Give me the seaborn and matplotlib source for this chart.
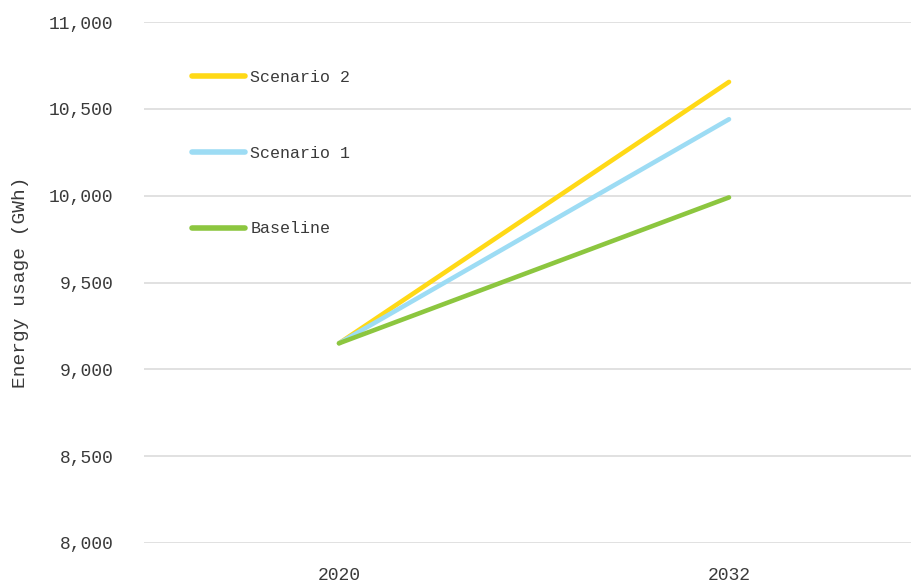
import matplotlib
matplotlib.use("Agg")
import matplotlib.pyplot as plt
import matplotlib.ticker as mticker
import seaborn as sns
import pandas as pd

years = ["2020", "2032"]
series_names = ["Scenario 2", "Scenario 1", "Baseline"]
scenario2 = [9150, 10655]
scenario1 = [9150, 10440]
baseline = [9150, 9990]
y_label = "Energy usage (GWh)"
y_ticks = [8000, 8500, 9000, 9500, 10000, 10500, 11000]
colors = ["#FFD916", "#9DDCF4", "#8CC63F"]

rows = []
for name, vals in zip(series_names, [scenario2, scenario1, baseline]):
    for yr, v in zip(years, vals):
        rows.append({"Year": yr, "Value": v, "Series": name})
df = pd.DataFrame(rows)

sns.set_theme(style="white")
plt.rcParams["font.family"] = ["Liberation Mono", "DejaVu Sans"]

fig = plt.figure(figsize=(9.12, 5.84), dpi=100)
ax = fig.add_axes([144 / 912, 1 - 543 / 584, (924 - 144) / 912, (543 - 22) / 584])

sns.lineplot(data=df, x="Year", y="Value", hue="Series", hue_order=series_names,
             palette=colors, linewidth=3.3, ax=ax, sort=False,
             solid_capstyle="round")

ax.set_xlim(-0.5, 1.5)
ax.set_ylim(8000, 11000)
ax.set_yticks(y_ticks)
ax.yaxis.set_major_formatter(mticker.FuncFormatter(lambda v, p: f"{int(v):,}"))
ax.grid(axis="y", color="#DCDCDC", linewidth=1.2)
ax.grid(axis="x", visible=False)
ax.set_axisbelow(True)
for s in ax.spines.values():
    s.set_visible(False)
ax.tick_params(axis="both", length=0, labelsize=13, colors="#3a3a3a")
ax.tick_params(axis="y", pad=22)
ax.tick_params(axis="x", pad=17)
ax.set_xlabel("")
ax.set_ylabel(y_label, fontsize=14, color="#3a3a3a", labelpad=14)

leg = ax.legend(loc="center left", bbox_to_anchor=(192 / 912, 1 - 153 / 584),
                bbox_transform=fig.transFigure, frameon=False, fontsize=12,
                handlelength=3.2, handletextpad=0.3, labelspacing=3.65,
                borderpad=0, borderaxespad=0)
for line in leg.get_lines():
    line.set_linewidth(4)
    line.set_solid_capstyle("round")
for t in leg.get_texts():
    t.set_color("#3a3a3a")

fig.savefig("out.png", dpi=100)
